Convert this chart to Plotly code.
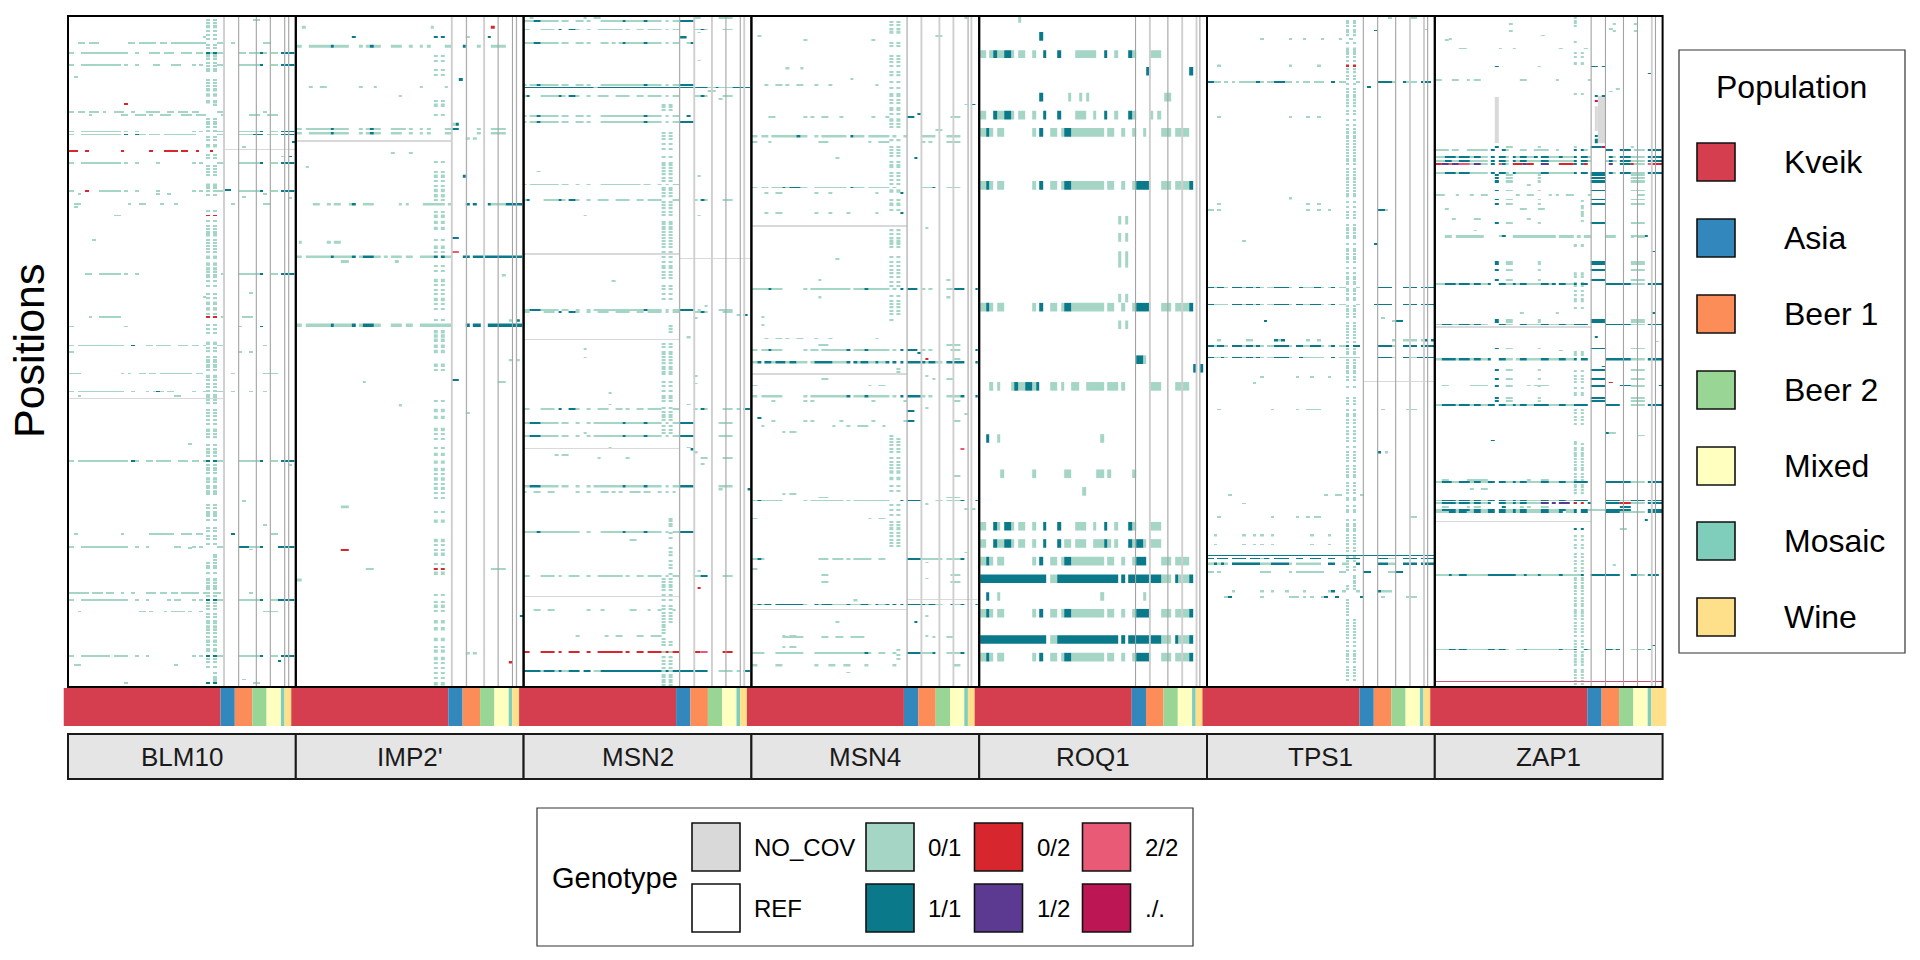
import plotly.graph_objects as go

GENES = ["BLM10", "IMP2'", "MSN2", "MSN4", "ROQ1", "TPS1", "ZAP1"]
GENO_COLORS = {'n': '#d9d9d9', 'h': '#a5d5c5', 'H': '#0a7a8b', 'r': '#d8262f',
               'p': '#e85a76', 'v': '#5c3a92', 'm': '#bd1654', 'c': '#cc5570'}
POPS = ["Kveik", "Asia", "Beer 1", "Beer 2", "Mixed", "Mosaic", "Wine"]
POP_COLORS = ['#d53e4f', '#3288bd', '#fc8d59', '#99d594', '#ffffbf', '#7fcdbb', '#fee08b']
POP_WIDTHS = [157, 14.3, 17.5, 14.3, 14.3, 3.6, 15]

# rows: (position, thickness, genotype, strain-from, strain-to, strain-from, strain-to, ...)
BLM10_rows = [
 (68,3,'h',36,57,69,99,186,207,219,270,282,303,315,420,453,474,495,507,591,615),
 (90,3,'h',45,165,174,186,207,219,261,282,294,324,345,378,390,411,432,441,453,474,518,540,549,582,615,636),
 (90,5,'h',6,24,57,69,165,174,249,261,294,324,345,378,390,411,591,603),
 (91,3,'H',420,432,441,453,582,591,645,685),
 (119,3,'h',6,24,45,165,174,186,207,219,261,282,315,345,378,390,399,411,453,474,518,582,615,636),
 (119,4,'H',582,591,645,685),
 (147,4,'h',24,36),(210,3,'r',174,186),
 (228,3,'h',6,24,36,45,45,57,69,99,111,120,144,165,165,174,195,207,240,270,270,282,303,324,336,366,378,399,453,474,591,603),
 (235,3,'h',69,78,165,186,207,240,249,261,282,315,345,378,390,420,465,474,549,582,603,636),
 (273,3,'h',6,24,45,165,174,186,207,219,378,390,399,411,453,474,518,582,615,636),
 (273,3,'H',582,591,645,685),
 (280,3,'h',6,24,45,165,219,240,249,282,294,378,378,390,453,474,518,561,603,636),
 (280,3,'H',174,186,207,219,561,591,645,685),
 (298,3,'H',678,689),(308,3,'h',528,540),
 (319,4,'r',6,36,57,69,165,174,249,261,294,336,345,366,390,399,432,441),
 (331,3,'h',645,657),(331,3,'H',668,678),
 (347,3,'h',6,24,45,165,174,186,207,219,270,282,378,390,399,411,453,474,518,582,615,636),
 (347,3,'H',582,591,645,685),
 (409,3,'H',474,495),
 (412,3,'h',6,24,99,165,174,186,207,219,270,282,378,390,399,411,453,474,518,582,615,636),
 (412,3,'H',582,591,645,685),(412,3,'r',57,69),
 (419,3,'h',36,45,270,282,303,315,591,603),(426,3,'h',528,540),(428,3,'h',669,678),
 (442,3,'h',24,45,186,195,219,240,282,294,324,336,495,507,591,615),
 (449,3,'h',24,36),(468,3,'h',144,165),(524,3,'h',78,90),
 (603,3,'h',57,78,99,165,174,186,207,219,465,474,518,582,615,636),
 (603,3,'H',582,591,645,685),
 (649,3,'h',549,561),(658,3,'h',411,420),
 (703,3,'h',69,78,99,165,465,474,528,561),
 (726,3,'h',6,24,174,186,518,528),(726,3,'H',582,591),
 (770,3,'h',6,24,36,174,240,261,270,315,336,366,378,399,411,420,453,474,591,603),(770,3,'H',195,207),
 (786,3,'h',6,24,518,528,549,561),
 (835,3,'h',6,45,165,174,186,195,219,240,249,270,282,378,390,411,495,507,591,636),
 (877,3,'h',6,24,36,174,195,207,240,249,261,270,282,294,303,324,378,390,411,420,453,474,495,507,549,561,591,603),
 (877,3,'H',270,282),
 (888,3,'h',36,45,324,345),(999,3,'h',366,378),
 (1039,4,'h',6,24,36,186,207,219,240,261,270,315,336,366,378,399,411,420,453,474,518,582,615,636),
 (1039,4,'H',195,207,420,432,441,453,582,591,645,685),
 (1048,3,'h',669,678),(1132,3,'h',528,540),(1188,3,'h',591,603),
 (1209,3,'h',24,36,165,174,249,324,345,378,390,411,615,636),(1209,3,'H',495,507),
 (1239,3,'h',6,24,45,186,207,219,240,249,324,345,378,390,399,411,453,474,549,582),
 (1239,3,'H',518,549,582,591,636,685),
 (1241,3,'h',366,378),(1244,3,'h',549,561),
 (1344,3,'h',45,57,78,111,120,144,195,207,240,249,282,294,378,390,453,465),
 (1346,3,'h',6,45,57,69,165,174,249,270,294,303,315,336,345,378,390,399,411,420,549,561),
 (1362,4,'h',6,24,45,186,207,219,240,249,303,315,324,345,378,390,399,411,453,474,518,582,615,636),
 (1362,4,'H',420,432,441,453,582,591,636,685),
 (1388,3,'h',36,45,219,240,249,261,294,303,315,357,366,378,399,411,591,636),
 (1492,3,'h',6,24,45,132,144,186,207,219,240,249,378,390,399,411,453,474,518,582,615,636),
 (1492,3,'H',420,432,441,453,582,591,645,685),
 (1504,3,'H',636,645),(1513,4,'h',24,45,324,336),(1546,3,'h',528,540),
 (1555,3,'h',174,186,561,582),(1555,3,'H',420,432,441,453),
 (14,3,'h',561,582),(54,3,'h',411,420),
 (315,2,'n',474,689),(893,2,'n',6,474),
 (468,3,'r',420,432,441,453),(703,3,'r',420,432,441,453),
]
BLM10_twin = [15,21,39,48,58,72,80,105,113,120,127,133,153,160,167,243,250,256,263,272,285,292,328,334,354,361,368,375,405,412,420,458,480,492,499,506,526,532,538,545,552,600,606,612,620,631,651,661,697,722,733,741,777,784,796,803,808,815,820,827,850,859,866,875,885,891,897,905,921,928,935,943,952,977,984,1002,1010,1026,1047,1054,1060,1066,1088,1096,1102,1116,1140,1148,1156,1161,1167,1176,1195,1201,1213,1219,1231,1275,1283,1288,1299,1322,1328,1333,1337,1345,1352,1369,1376,1383,1395,1402,1410,1416,1431,1439,1447,1467,1475,1481,1499,1506,1518]
BLM10_twin_wide = [29,97,176,188,204,306,398,513,565,581,592,672,685,765,842,967,1018,1080,1110,1314,1424,1457]
BLM10_right = [211,1256,1262,1268,1532,1540,1545,1550]
BLM10_lines = [(474,'l'),(518,'g'),(571,'g'),(613,'g'),(656,'m'),(668,'m')]

IMP2_rows = [
 (5,3,'h',15,24),(31,7,'h',24,36,411,420),(31,7,'r',591,603),
 (53,5,'H',174,186,420,432,441,453,582,591),(53,5,'h',516,528),
 (75,7,'h',6,24,45,111,120,165,195,207,216,228,240,261,291,324,345,357,378,387,399,411,453,474,549,561,591,636),
 (75,7,'H',111,120,228,240,507,516),
 (152,7,'H',495,507),(169,5,'h',45,57,78,99,195,207,240,249,378,387,453,462),(190,5,'h',315,324),
 (256,7,'h',474,486),(256,7,'H',486,495),
 (267,5,'h',6,24,36,111,120,165,195,207,216,228,240,261,291,336,345,357,378,387,399,411,453,474,549,561,591,636),
 (267,5,'H',111,120,228,240,474,495),
 (278,5,'h',6,24,45,111,120,165,195,207,216,228,240,261,291,324,345,357,378,387,399,411,453,474,549,561,591,636),
 (278,5,'H',111,120,228,240),
 (289,6,'h',516,528,537,549),(295,4,'n',6,474),
 (323,4,'h',291,303,345,357),(355,5,'h',36,45),(377,7,'H',507,516),
 (443,5,'h',57,78,99,111,120,141,165,174,207,240,315,324,336,345,387,453,462,474,591,636),
 (443,5,'H',174,186,516,528,537,549,582,591,636,685),
 (520,5,'H',474,495),(530,7,'h',15,24,99,111,120,141),(552,4,'p',474,495),
 (564,6,'h',6,24,36,111,120,174,195,207,240,261,270,282,291,324,336,357,378,420,453,474),
 (564,6,'H',111,120,174,186,207,240,420,432,441,453,507,528,537,685),
 (575,7,'h',141,165,303,315),(608,5,'h',624,636),
 (712,6,'h',645,657),(712,6,'H',667,678),
 (723,8,'h',6,24,36,111,120,174,195,207,240,261,291,324,336,357,378,474),
 (723,8,'H',111,120,174,186,207,240,516,528,537,561,582,685),
 (805,4,'h',645,657,667,678),(850,5,'H',474,495),(855,4,'h',207,216,612,636),
 (910,5,'h',315,324),(926,4,'h',516,528),(1145,6,'h',141,165),(1245,4,'r',141,165),
 (1289,5,'h',216,240,591,636),(1289,5,'r',420,432,441,453),
 (1315,7,'h',6,24),(1398,4,'H',678,689),(1486,5,'h',516,528,537,549),(1507,5,'r',645,656),
]
IMP2_twin = [97,109,130,141,202,234,343,367,388,399,432,459,525,553,585,597,630,641,651,674,686,712,827,899,975,987,1008,1068,1091,1112,1124,1157,1234,1245,1277,1349,1366,1386,1471,1507,1519,1531,1542]
IMP2_twin_wide = [212,377,410,422,470,484,498,542,619,663,738,748,758,772,784,816,921,937,965,1023,1041,1058,1080,1102,1178,1223,1255,1299,1376,1412,1428,1453,1480,1497,1556]
IMP2_right = []
IMP2_lines = [(474,'l'),(518,'m'),(571,'l'),(613,'g'),(656,'g'),(668,'m')]

MSN2_rows = [
 (9,4,'h',24,36,186,195,216,237,516,537,591,633),
 (16,5,'h',6,36,57,111,120,141,162,186,195,207,237,303,312,366,378,420,432,441,453,474),
 (16,5,'H',36,57,303,312,366,378,474,516),
 (36,3,'h',6,24,57,99,162,174,195,207,228,303,312,324,345,366,378,420,432,441,453,474,516,537,549,558,603,633),
 (36,3,'H',111,120,141,162,537,549),
 (43,3,'h',528,537),(55,5,'H',474,495),
 (68,3,'h',6,36,57,111,120,141,162,186,195,207,237,261,270,282,291,303,312,366,378,420,432,441,453,474,495,507),
 (68,3,'H',36,57,303,312,366,378,507,516),
 (108,3,'h',528,537),
 (165,4,'h',6,15,24,45,57,111,120,141,162,186,195,207,237,366,378,420,432,441,453,474),
 (165,4,'H',45,57,366,378,474,516),
 (171,2,'H',6,216,228,558,582,591,633,685),(171,2,'h',216,228,558,582,591,633),
 (178,3,'h',558,582),
 (191,4,'h',6,15,57,111,120,132,162,174,195,207,228,261,282,324,345,366,378,420,432,441,453,474,516,537,549,558,603,633),
 (191,4,'H',15,24,111,120,141,162,537,549),
 (197,5,'h',591,603),
 (237,4,'h',6,15,24,45,57,111,120,141,162,186,195,207,237,366,378,420,432,441,453,474),
 (237,4,'H',45,57,366,378,495,507),
 (251,4,'h',6,15,24,45,57,111,120,141,162,186,195,207,237,366,378,420,432,441,453,474),
 (251,4,'H',45,57,366,378,474,516),
 (366,2,'h',45,57),(376,5,'h',528,537),
 (396,2,'h',6,15,24,111,120,141,162,174,195,207,237,357,366,387,408,420,432,441,453,474),
 (432,4,'h',6,15,66,111,120,132,162,174,195,207,228,261,282,324,345,366,378,420,453,474,516,528,549,558,603,633),
 (432,4,'H',15,24,111,120,141,162,537,549),
 (468,3,'h',186,195,528,537),(620,5,'h',270,282),(679,3,'h',549,558),
 (687,3,'h',6,24,57,111,120,141,162,174,195,207,216,366,378,420,432,441,453,474,528,537,591,633),
 (687,3,'H',24,57,366,378,474,516),
 (693,3,'h',6,24,66,99,162,174,195,207,228,261,282,324,345,366,378,420,432,441,453,474,516,537,549,558,603,633),
 (693,3,'H',111,120,141,162,537,549),
 (699,5,'h',645,657),(699,5,'H',666,678),(706,5,'h',516,528),(752,5,'h',495,507),
 (779,3,'h',186,195),(798,2,'h',186,195),(841,4,'h',516,528),(858,2,'h',516,528),(881,3,'h',261,270),(907,2,'h',261,270,495,507),
 (917,5,'h',6,24,57,99,162,174,195,207,228,261,282,303,312,324,345,366,378,420,453,474,516,528,549,558,603,633,645,657),
 (917,5,'H',111,120,141,162,537,549,666,685),
 (950,4,'h',6,24,57,111,120,141,162,174,195,207,216,303,312,366,378,420,432,441,453,474,591,633),
 (950,4,'H',24,57,303,312,366,378,474,516),
 (973,5,'h',186,195),
 (981,5,'h',6,24,57,111,120,141,162,174,195,207,216,303,312,366,378,420,432,441,453,474,591,633),
 (981,5,'H',24,57,303,312,366,378,474,516),
 (1007,2,'h',261,270,495,507),(1012,5,'H',507,516),(1019,5,'h',516,528),(1025,3,'h',99,111,120,141),
 (1032,3,'h',228,237,312,324,537,558,603,633),(1046,3,'h',537,549),
 (1098,5,'h',6,24,57,111,120,141,162,174,195,207,216,303,312,366,378,420,432,441,453,474,591,633),
 (1098,5,'H',24,57,303,312,366,378,474,516),
 (1105,5,'h',591,603),(1105,5,'H',678,689),
 (1111,3,'h',6,15,36,57,78,99,162,174,195,207,237,261,270,282,291,303,324,357,366,387,408,420,432,441,453,462),
 (1204,3,'h',6,45,57,174,195,207,237,303,312,366,378,420,432,441,453,474),
 (1204,3,'H',45,57,303,312,366,378,474,516),
 (1221,3,'h',324,345),(1294,5,'h',528,537),
 (1306,2,'h',6,24,57,99,111,120,141,174,195,207,228,303,312,324,345,366,378,420,432,441,453,474,516,537,603,633),
 (1306,2,'H',537,558),
 (1333,5,'r',528,537),
 (1385,3,'h',36,57,78,99,195,207,237,249,324,345,378,387,408,420,453,462),
 (1445,3,'h',162,174,249,261,282,303,345,366,387,420),
 (1482,5,'r',6,24,57,99,111,120,141,174,195,207,228,303,312,324,345,366,378,420,432,441,453,474,516,537,603,633),
 (1482,5,'p',537,558),(1482,5,'h',420,432,441,453),
 (1527,4,'H',6,57,66,99,111,120,141,174,186,207,237,420,432,441,453,558,666,685),
 (1527,4,'h',57,66,99,111,120,141,216,237,591,633,645,657,420,432,441,453),
 (557,4,'n',6,474),(568,2,'n',474,689),(756,2,'n',6,474),(1009,2,'n',6,474),(1353,2,'n',6,474),
]
MSN2_twin = [212,217,224,277,283,290,303,314,333,346,352,358,366,373,381,389,404,410,416,424,438,445,452,459,466,483,488,494,500,507,514,521,527,535,541,553,564,576,585,591,600,607,613,633,640,651,663,767,773,785,791,797,805,812,820,825,831,837,855,865,876,887,893,900,915,924,931,937,944,958,966,974,1313,1320,1326,1332,1338,1349,1362,1376,1382,1391,1398,1405,1412,1459,1467,1495,1503,1510,1519,1535,1541,1547,1553,1559]
MSN2_twin_wide = []
MSN2_right = [726,733,739,1173,1178,1184,1190,1206,1217,1241,1251,1258,1270,1280,1287,1300]
MSN2_left = [1419,1425,1431,1439,1452,1467]
MSN2_lines = [(474,'m'),(518,'l'),(571,'l'),(613,'g'),(656,'g'),(668,'l')]

MSN4_rows = [
 (9,3,'h',645,654),(51,3,'h',24,36,558,579),(60,5,'h',162,174,366,378),(127,5,'h',108,120,153,162),
 (151,4,'h',303,312),(165,4,'h',45,57,78,99,108,120,141,162,195,207,237,249,378,387),
 (210,2,'h',645,654),(210,2,'H',666,678),(233,3,'H',504,516),
 (240,3,'h',57,78,162,174,183,195,216,237,270,282,366,378,408,420,603,633),(240,3,'H',474,495),
 (270,3,'h',558,579),
 (285,5,'h',6,24,36,57,66,141,153,174,195,207,216,291,312,345,357,420,429,441,462,472,516,558,591,633),
 (285,5,'H',141,153,303,312),
 (297,5,'h',6,24,57,66,207,237,357,366,387,420,516,528,537,549,591,633),
 (334,5,'h',258,270),(334,5,'H',495,504),
 (403,2,'h',6,24,36,57,66,99,108,120,153,174,195,291,312,345,357,420,429,441,516,549,591,633),
 (403,2,'H',99,108,120,153,303,312,549,558),
 (417,4,'h',45,57,78,99,195,207,237,249,378,387),(417,4,'H',453,462),
 (463,3,'h',45,57,78,99,195,207,237,249,291,303,378,387),(463,3,'H',453,462),
 (497,4,'h',528,537),(569,4,'h',258,270),(618,4,'h',207,216,591,603),
 (639,2,'h',6,57,66,99,162,174,183,303,312,345,357,420,429,441,516,528,537,549,591,612),
 (639,2,'H',57,66,345,357,453,462,474,504,612,645,678,685),
 (659,5,'h',207,216,591,603),(704,4,'h',36,45),(723,3,'h',36,45),
 (754,2,'h',45,57,78,99,108,120,141,162,195,207,237,249,378,387),
 (769,3,'h',207,237,591,633),
 (780,5,'h',6,24,36,57,66,99,162,174,183,207,216,291,312,345,357,420,429,441,516,528,537,549,603,633),
 (780,5,'H',57,66,291,303,345,357,453,462,474,504,678,685),
 (787,5,'H',504,516),(802,3,'r',528,537),(802,3,'h',612,633),
 (810,5,'H',24,36,45,66,78,108,120,141,195,249,291,303,312,324,333,357,378,387,408,420,429,441,453,462,474,528,537,558,591,645,678,685),
 (810,5,'h',6,24,66,78,108,120,141,174,183,195,249,291,324,333,357,378,387,408,528,537,558,579),
 (836,4,'n',6,472),(840,3,'h',528,537),(848,5,'h',216,237,549,558,591,612),
 (863,3,'h',6,24,357,366,387,408),
 (889,5,'h',6,24,36,99,162,174,183,291,312,345,357,420,429,441,516,528,537,549,591,633),
 (889,5,'H',291,303,345,357,453,462,474,516,633,645,678,685),
 (900,3,'h',66,78,162,174,183,195,366,378,462,472,612,633),(915,5,'h',528,537),(923,3,'H',474,495),
 (930,3,'h',645,654),(938,5,'H',24,36),
 (945,5,'h',66,78,162,174,183,195,270,282,366,378,462,474,612,633),(945,5,'H',474,495),
 (957,4,'h',36,45,249,258,291,303,324,357,399,408),(971,2,'h',99,108,120,141),
 (1010,5,'p',633,645),(1073,5,'h',612,633),(1115,5,'h',99,108,120,141),(1123,2,'h',207,237,591,633),
 (1130,2,'h',6,24,36,99,162,174,183,282,291,303,312,420,558,579,591,633),
 (1130,2,'H',24,36,453,462,474,516,633,645,678,685),
 (1138,5,'h',528,537),(1150,4,'h',645,654,666,678),(1172,3,'h',6,24,357,366,387,408),(1251,3,'h',645,654),
 (1266,4,'h',6,24,36,45,207,237,249,282,291,303,312,366,387,408,516,579,591,633),
 (1266,4,'H',24,36,474,516,633,645),
 (1274,2,'h',528,537),(1289,5,'h',6,24),(1303,5,'h',216,237,603,633),(1311,2,'h',528,537),(1319,5,'h',216,237,603,633),
 (1360,2,'n',474,684),(1363,5,'h',312,324),
 (1372,2,'H',24,36,45,66,78,162,195,207,216,249,291,303,333,357,378,387,408,420,429,441,453,462,474,528,537,558,603,612,633,645,678,685),
 (1372,2,'h',6,24,36,45,162,174,207,216,249,291,303,333,357,366,387,408,528,537,558,579,612,633),
 (1383,2,'n',6,472),(1398,5,'h',528,537),(1413,3,'h',258,270),(1413,3,'H',495,504),
 (1444,3,'h',99,108,120,141,528,537),(1447,5,'h',99,162,216,237,258,282,303,345,549,558,591,612),
 (1471,5,'h',99,108,120,141),
 (1484,5,'h',6,45,78,162,195,345,357,366,387,408,429,441,516,549,591,633),
 (1484,5,'H',345,357,474,516,549,558,633,645),
 (1514,5,'h',6,24,78,99,195,207,237,258,282,303,345,357,429,441,612,633),(1530,2,'h',291,303),
 (493,3,'n',6,472),
]
MSN4_twin = [18,25,34,68,75,97,104,112,120,135,143,158,173,185,191,199,206,218,224,232,255,263,294,309,316,324,331,343,350,356,369,376,385,394,432,455,503,512,520,535,542,564,576,586,594,603,610,622,632,655,666,674,682,690,697,987,994,1002,1010,1017,1032,1040,1047,1054,1097,1108,1141,1152,1163,1180,1187,1205,1214,1221,1228,1235]
MSN4_twin_wide = [42,246,411,442,528,1064,1079,1195]
MSN4_right = [824,832,1477,1490,1499]
MSN4_left = [712,980]
MSN4_lines = [(473,'g'),(516,'l'),(570,'l'),(612,'l'),(656,'g'),(666,'l')]

ROQ1_band_y = [398,681,1392,1494]
ROQ1_band_het = (9,27,36,48,60,81,165,177,219,240,252,261,282,381,390,411,432,444,465,477,552,582,594,636)
ROQ1_band_hom = (27,36,186,198,261,282,477,519,636,648)
ROQ1_wall_y = [1312,1453]
ROQ1_wall_hom = (9,207,240,423,432,444,453,552,594,603,636,648)
ROQ1_wall_het = (219,240,552,582,603,636)
ROQ1_rows = [
 (12,16,'h',123,132),(52,20,'H',186,198),
 (93,18,'h',9,27,36,48,60,81,102,111,123,144,165,177,294,357,411,423,465,477,519,552),
 (93,18,'H',48,60,81,102,198,207,240,252,381,390,453,465),
 (133,20,'H',507,519,636,648),
 (193,20,'H',186,198),(193,20,'h',273,282,306,315,327,336,561,582),
 (235,20,'h',9,27,60,81,102,111,123,144,165,177,294,327,348,357,411,423,465,477,519,528,540,552),
 (235,20,'H',48,60,81,102,198,207,240,252,381,390,453,465),
 (275,20,'h',9,27,36,48,60,81,165,177,219,240,252,261,282,381,390,411,432,444,465,477,498,507,552,582,594,636),
 (275,20,'H',27,36,186,198,261,282),
 (479,20,'h',423,432,444,453),(519,20,'h',423,432,444,453),(570,38,'h',423,432,444,453),
 (660,20,'h',423,432,444,453),(722,20,'h',423,432,444,453),
 (803,20,'H',477,498),(803,20,'h',498,507),(823,20,'H',648,657,669,678),
 (865,20,'h',36,48,60,69,102,111,123,144,165,177,219,240,252,261,282,306,327,381,390,423,432,444,519,552,594,636),
 (865,20,'H',111,123,144,165,177,186),
 (986,20,'H',27,36),(986,20,'h',60,69,369,381),
 (1068,20,'h',69,81,165,177,261,282,357,381,390,402,465,477),(1109,20,'h',315,327),
 (1190,20,'h',9,27,60,69,102,111,123,144,165,177,294,327,348,357,411,423,465,477,519,552),
 (1190,20,'H',48,60,81,102,198,207,240,252,381,390,453,465),
 (1230,20,'h',9,27,60,81,102,111,123,144,165,177,261,282,294,327,348,381,390,402,411,423,465,477,498,507,519,552),
 (1230,20,'H',48,60,81,102,198,207,240,252,381,390,453,465,477,498),
 (1271,20,'h',9,27,36,48,60,81,165,177,219,240,252,261,282,381,390,411,432,444,465,477,552,582,594,636),
 (1271,20,'H',27,36,186,198,261,282,477,507),
 (1353,20,'H',27,36),(1353,20,'h',60,69,369,381,498,507),
]
ROQ1_twin = []
ROQ1_twin_wide = []
ROQ1_right = []
ROQ1_lines = [(475,'g'),(518,'l'),(572,'g'),(615,'l'),(658,'l'),(668,'g')]

TPS1_rows = [
 (9,4,'h',549,561,615,636),(36,2,'h',657,669),(38,2,'H',507,518),
 (58,4,'h',165,177,252,261,294,303,348,357,402,411,432,444),
 (120,6,'h',36,48,252,261,336,348),(120,6,'r',423,432,444,453),
 (157,3,'H',9,27,153,165,207,240,378,390,518,561,594,603,648,678),
 (157,3,'h',27,48,57,69,81,90,102,153,165,177,186,207,240,261,273,282,294,315,327,357,402,423,453,465,561,572,603,636),
 (170,5,'H',486,498),(240,3,'h',36,48,252,261,303,315,336,348),(429,5,'h',252,261),
 (442,3,'h',36,48,303,315,336,348),
 (456,3,'h',9,27,36,48,303,315,336,348,369,378,540,549),(456,3,'H',518,540),
 (528,3,'h',111,123),(534,5,'H',507,518),
 (635,2,'H',9,27,36,57,81,111,123,144,153,165,207,252,282,294,327,348,378,390,518,561,594,636,648,687),
 (635,2,'h',27,36,57,69,111,123,144,153,165,177,186,207,252,261,294,327,348,357,369,378,402,423,453,465),
 (675,2,'H',9,27,81,111,123,144,153,165,207,252,273,294,315,348,378,390,507,561,594,636,648,687),
 (675,2,'h',27,69,111,123,144,153,165,177,186,207,252,261,294,315,348,357,369,378,402,423,453,465),
 (707,3,'h',528,540),(713,4,'H',177,186,573,594),(713,4,'h',561,573),
 (759,5,'h',36,48,123,144,303,315,336,348,561,573,594,636,648,657,219,228),
 (759,5,'H',207,219,228,240,657,669,678,687),
 (772,3,'H',9,27,36,57,81,111,123,144,153,165,207,252,273,294,315,348,378,390,423,432,444,465,518,561,594,636,648,687),
 (772,3,'h',27,36,57,69,111,123,144,153,165,177,186,207,252,261,294,315,348,357,369,378,402,423,561,572),
 (798,2,'H',9,27,48,57,81,111,123,144,153,165,207,252,282,294,378,390,518,561,594,612,636,687),
 (798,2,'h',27,48,57,69,111,123,144,153,165,177,186,207,252,261,294,357,402,465,561,572,612,636),
 (844,3,'h',165,177,273,282,315,327,369,378),(854,2,'n',475,689),(857,5,'h',144,153),
 (919,2,'h',36,48,198,207,273,282,303,348,528,540,603,636),
 (1019,5,'H',518,528),(1019,5,'h',540,549),
 (1117,5,'h',69,81,357,369,390,411,465,477),(1137,2,'h',111,123),
 (1169,3,'h',36,48,198,207,273,282,303,315,327,348,615,636),
 (1212,5,'h',27,36,111,123,144,153,165,177,198,207,315,327,369,378),
 (1232,2,'h',27,36,111,123,144,153,165,177,198,207,315,327,369,378),
 (1258,2,'H',9,687),
 (1265,3,'H',9,27,36,69,81,123,135,165,177,193,207,252,273,294,315,348,369,390,423,465,518,549,594,636,648,687),
 (1265,3,'h',165,177,549,572),
 (1277,6,'H',27,36,48,57,81,165,198,252,369,390,453,465,518,549,594,636,648,687),
 (1277,6,'h',9,27,36,48,57,69,165,198,252,261,273,348,411,432,549,572),
 (1297,3,'h',9,27,36,48,165,198,252,261,273,357,402,423,549,572),(1297,3,'H',474,498,572,594),
 (1342,5,'h',81,90,165,177,198,207,240,252,294,303,369,378,411,423,453,465,528,561),(1342,5,'H',378,390,518,528),
 (1355,3,'h',57,69,165,177,252,282,294,303,315,327,348,357,528,540,603,636),(1355,3,'H',69,81,357,369,390,402,465,474),
]
TPS1_twin = [16,22,29,37,43,50,67,88,94,101,109,129,136,144,151,162,175,181,188,194,201,208,215,225,232,247,259,268,283,289,296,302,309,316,322,329,336,342,349,360,367,374,391,397,404,411,418,424,436,449,459,468,475,490,497,503,509,515,521,534,545,551,557,564,570,577,590,603,610,616,622,628,638,644,651,659,665,679,685,690,697,703,719,726,733,739,746,752,763,778,785,791,805,811,817,822,829,835,843,851,866,893,900,907,920,930,935,943,951,960,970,977,985,993,1007,1017,1024,1031,1039,1050,1057,1064,1071,1075,1089,1096,1105,1112,1124,1130,1144,1152,1157,1176,1184,1190,1196,1202,1210,1218,1225,1232,1240,1247,1262,1270,1284,1291,1330,1335,1407,1414,1421,1429,1436,1443,1449,1459,1468,1479,1486,1492,1499,1506,1518,1525,1532,1539,1548]
TPS1_twin_wide = [82,275,382]
TPS1_right = [1305,1311,1317,1323]
TPS1_left = [1362,1368,1375,1382,1390,1396]
TPS1_lines = [(475,'g'),(518,'g'),(572,'g'),(615,'l'),(657,'l'),(668,'g')]

ZAP1_ladder_y = [375,380,387,391,410,431,442,486,577,581,594,617,710,716,777,826,847,865,891,900]
ZAP1_ladder_hom = (186,198,474,518)
ZAP1_ladder_het = (219,240,315,324,594,636)
ZAP1_rows = [
 (24,3,'h',228,240,603,615,540,549),(34,3,'h',528,540),(40,3,'h',228,240,540,549,603,615),(50,2,'h',324,336),
 (57,3,'h',48,57),(61,4,'h',36,48),(80,3,'h',78,102,198,207,240,249,378,390,453,465),
 (122,3,'H',186,198,474,495,507,518),(122,3,'h',315,324),(138,2,'H',645,657),
 (154,4,'h',6,27,57,78,102,111,123,144,261,282,369,378,465,474),
 (175,3,'h',549,561),(180,3,'h',528,540),(191,3,'H',486,495,507,518),(203,3,'m',486,495),
 (246,107,'n',186,198),(245,110,'n',495,518),(243,58,'n',486,495),
 (284,5,'H',486,495),(295,10,'H',486,495),
 (308,3,'H',186,198,474,507),(308,3,'m',507,518),(308,3,'h',219,240,315,324,423,432,594,603),
 (315,3,'h',6,48,57,78,102,165,219,228,261,282,303,348,369,378,453,465,603,636),
 (315,3,'H',174,186,207,219,423,432,444,453,518,540,561,594,645,685),
 (333,4,'h',6,36,69,78,111,123,144,165,219,228,249,261,282,303,348,378,390,423,465,474,540,549,594,636),
 (333,4,'H',36,69,78,111,123,144,174,186,198,219,240,249,261,282,303,315,324,348,378,390,423,432,444,465,528,540,561,594,645,690),
 (342,3,'h',6,36,57,78,111,165,219,228,249,261,282,324,348,423,465,474,518,528,540,552,594,636),
 (342,3,'H',36,57,78,111,174,186,198,219,240,249,261,282,324,348,423,432,444,465,528,540,561,594,645,690),
 (349,3,'r',6,27,240,270,282,303,378,423,453,465,594,603,657,690),
 (349,3,'p',48,57,78,111,198,207,645,657),
 (349,3,'v',27,48,57,78,123,144,270,282,324,348,528,540),
 (349,3,'h',111,123,144,165,219,228,603,636),
 (349,3,'H',174,186,207,219,423,432,444,453,561,594),
 (370,3,'h',6,36,69,78,111,165,219,228,249,324,348,423,540,549,594,636),
 (370,3,'H',36,69,78,111,174,186,198,219,240,249,324,348,423,432,444,465,474,518,528,540,561,594,645,690),
 (398,3,'h',282,294),
 (420,5,'h',6,36,69,78,111,123,144,165,249,261,282,303,348,357,369,378,399,423,465,474,615,636),
 (452,3,'h',36,48,261,282,315,336),(476,5,'h',57,69,123,144,282,294),(503,2,'h',123,132),
 (515,3,'h',36,57,69,153,198,207,240,369,378,423,432,444,453,474,519,549,594,636),(515,3,'H',207,219,636,645),
 (519,2,'h',36,57,69,153,240,369,378,423,432,444,453,474,519,549,594,603,615,636),
 (552,2,'H',657,669),
 (628,3,'h',6,36,69,78,111,123,144,165,219,240,249,261,282,324,348,357,399,423,594,636),
 (628,3,'H',36,69,78,111,123,144,165,174,198,219,240,249,261,282,324,348,357,369,378,399,423,432,444,465,518,594,645,690),
 (694,5,'h',261,273,369,378),(694,5,'H',657,669),
 (721,2,'H',27,57,78,111,123,144,198,219,261,282,324,348,378,399,423,465,518,594,645,690),
 (721,2,'h',6,27,57,78,111,123,144,165,219,240,282,324,348,378,399,423,594,636),
 (750,5,'H',486,495),(761,2,'h',669,678),(782,2,'h',378,390),
 (803,5,'h',6,27,69,78,111,123,144,165,219,240,249,261,282,324,348,378,399,423,594,636),
 (803,5,'H',27,69,78,111,123,144,165,174,198,219,261,282,324,348,378,399,423,432,444,465,518,594,645,690),
 (819,2,'H',507,518),(856,2,'r',528,540),
 (863,3,'h',27,48,111,165,282,294,303,348),(863,3,'H',561,594,678,690),
 (908,5,'h',6,27,69,78,111,123,144,165,219,240,249,261,282,303,348,378,399,423,594,636),
 (908,5,'H',27,69,78,111,123,144,165,186,198,219,240,249,261,282,303,348,378,399,423,465,518,561,645,690),
 (974,3,'H',518,528),(974,3,'h',528,549),(979,2,'h',615,636),(991,2,'H',174,186),
 (1083,2,'h',27,48,102,165,282,294,324,348),
 (1087,2,'H',27,57,78,111,123,144,165,186,198,219,240,249,261,282,324,348,378,399,423,465,518,594,645,690),
 (1087,2,'h',6,27,57,78,111,123,144,165,219,240,249,261,282,324,348,378,399,423,594,636),
 (1104,3,'h',111,123,144,165),
 (1130,2,'H',27,69,78,111,123,144,165,186,198,219,240,249,261,282,324,348,378,399,423,465,518,561,594,636,645,690),
 (1130,2,'h',6,27,69,78,111,123,144,165,219,240,249,261,282,324,348,378,399,423,561,594),
 (1136,3,'H',27,69,78,111,123,144,165,174,198,219,240,249,261,282,423,432,465,474,518,561,645,690),
 (1136,3,'v',324,348,357,369,378,411),(1136,3,'r',423,432,444,453,561,594),
 (1136,3,'h',6,27,69,78,111,123,144,165,219,240,249,261,282,324,594,636),
 (1146,3,'h',27,48,102,111,123,144,261,273,282,294,324,348),(1146,3,'H',207,219,561,594),
 (1152,5,'H',27,69,78,111,123,144,165,186,198,219,240,249,261,282,324,348,378,399,423,432,444,465,518,594,645,690),
 (1152,5,'h',6,27,69,78,111,123,144,165,219,240,249,261,282,324,348,378,399,423,465,594,636),
 (1158,4,'H',48,69,78,102,123,144,165,186,198,219,240,249,261,282,324,348,378,390,423,432,444,465,518,561,645,690),
 (1158,4,'h',6,48,69,78,102,123,144,165,219,240,249,261,282,324,348,378,399,423,561,636),
 (1176,3,'H',636,645),(1197,3,'H',423,432,444,453),(1197,3,'h',561,582),(1280,5,'h',540,549),
 (1304,3,'H',48,57,78,102,165,249,273,282,315,324,378,390,444,453,474,561,594,612,645,678),
 (1304,3,'h',6,48,57,78,102,165,249,273,282,315,324,378,390,444,612,636),
 (1467,2,'H',657,669),
 (1476,2,'H',48,69,78,102,165,186,198,219,273,282,378,390,423,432,453,465,518,540,549,561,645,657),
 (1476,2,'h',6,48,69,78,102,165,186,198,219,228,249,273,282,378,390,423,465,474,540,549,594,636),
 (1551,2,'c',6,690),(1551,2,'r',615,636),
 (727,2,'n',6,475),(1179,2,'n',6,475),
]
ZAP1_twin = [90,101,113,117,187,536,540,610,624,632,644,654,662,668,684,793,830,840,848,856,870,880,886,920,926,937,943,952,1000,1008,1014,1020,1033,1040,1047,1054,1060,1068,1075,1082,1094,1100,1107,1114,1214,1223,1233,1240,1254,1262,1270,1278,1288,1294,1310,1316,1322,1328,1334,1341,1348,1358,1364,1371,1376,1385,1399,1406,1414,1422,1430,1436,1444,1456,1463,1471,1482,1499,1513,1523,1529,1536,1543,1550,1557]
ZAP1_twin_wide = [604,787,1025,1391,1490,1505]
ZAP1_right = [435,447,452,459,465,470,482]
ZAP1_left = [10,17,22,28,66,994]
ZAP1_lines = [(475,'g'),(518,'g'),(572,'g'),(614,'g'),(657,'l'),(668,'g')]

W, H = 1920, 960
def fx(p): return p / W
def fy(p): return 1 - p / H

PANEL_W = 227.8
PANEL_L = [68 + i * PANEL_W for i in range(7)]
PANEL_T, PANEL_B = 16, 687
X_RANGE = [6, 689.4]
Y_RANGE = [1563.4, 4.6]

fig = go.Figure()
shapes, annots = [], []

def add_rows(axis, rows):
    by = {}
    for r in rows:
        y, h, g, sp = r[0], r[1], r[2], r[3:]
        for a, b in zip(sp[::2], sp[1::2]):
            by.setdefault(g, []).append((y, h, a, b))
    for g in ['n', 'h', 'H', 'r', 'p', 'v', 'm', 'c']:
        if g not in by:
            continue
        d = by[g]
        fig.add_trace(go.Bar(orientation='h', y=[v[0] for v in d],
                             width=[v[1] * 0.7 if v[1] <= 5 else v[1] for v in d],
                             base=[v[2] for v in d], x=[v[3] - v[2] for v in d],
                             marker=dict(color=GENO_COLORS[g], line=dict(width=0)),
                             xaxis=axis, yaxis='y', showlegend=False, hoverinfo='skip'))

def column_rows(twin, wide, right, left, cols):
    (a, b), (c, d) = cols
    out = [(y, 4, 'h', a, b, c, d) for y in twin]
    out += [(y, 8, 'h', a, b, c, d) for y in wide]
    out += [(y, 4, 'h', c, d) for y in right]
    out += [(y, 4, 'h', a, b) for y in left]
    return out

COLS_A = ((420, 432), (441, 453))
COLS_B = ((423, 432), (444, 453))
ROQ1_all = ROQ1_rows + [(y, 20, 'h') + ROQ1_band_het for y in ROQ1_band_y] + [(y, 20, 'H') + ROQ1_band_hom for y in ROQ1_band_y] \
    + [(y, 20, 'h') + ROQ1_wall_het for y in ROQ1_wall_y] + [(y, 20, 'H') + ROQ1_wall_hom for y in ROQ1_wall_y]
ZAP1_all = ZAP1_rows + [(y, 3, 'H') + ZAP1_ladder_hom for y in ZAP1_ladder_y] + [(y, 3, 'h') + ZAP1_ladder_het for y in ZAP1_ladder_y]
PANELS = [
    (column_rows(BLM10_twin, BLM10_twin_wide, BLM10_right, [], COLS_A) + BLM10_rows, BLM10_lines),
    (column_rows(IMP2_twin, IMP2_twin_wide, IMP2_right, [], COLS_A) + IMP2_rows, IMP2_lines),
    (column_rows(MSN2_twin, MSN2_twin_wide, MSN2_right, MSN2_left, COLS_A) + MSN2_rows, MSN2_lines),
    (column_rows(MSN4_twin, MSN4_twin_wide, MSN4_right, MSN4_left, COLS_A) + MSN4_rows, MSN4_lines),
    (ROQ1_all, ROQ1_lines),
    (column_rows(TPS1_twin, TPS1_twin_wide, TPS1_right, TPS1_left, COLS_B) + TPS1_rows, TPS1_lines),
    (column_rows(ZAP1_twin, ZAP1_twin_wide, ZAP1_right, ZAP1_left, COLS_B) + ZAP1_all, ZAP1_lines),
]
LINE_STYLE = {'g': ('#a3a3a3', 1.1), 'm': ('#afafaf', 1.3), 'l': ('#cfcfcf', 1.9)}

layout_axes = {}
for i, (rows, lines) in enumerate(PANELS):
    n = i + 1
    axis = 'x' if i == 0 else f'x{n}'
    key = 'xaxis' if i == 0 else f'xaxis{n}'
    add_rows(axis, rows)
    layout_axes[key] = dict(domain=[fx(PANEL_L[i]), fx(PANEL_L[i] + PANEL_W)], range=X_RANGE,
                            visible=False, anchor='y', fixedrange=True)
    for x, st in lines:
        c, w = LINE_STYLE[st]
        shapes.append(dict(type='line', xref=axis, yref='paper', x0=x, x1=x, y0=fy(PANEL_B), y1=fy(PANEL_T),
                           line=dict(color=c, width=w), layer='above'))
    shapes.append(dict(type='rect', xref='paper', yref='paper', x0=fx(PANEL_L[i]), x1=fx(PANEL_L[i] + PANEL_W),
                       y0=fy(PANEL_B), y1=fy(PANEL_T), line=dict(color='#000000', width=2), layer='above'))
    shapes.append(dict(type='rect', xref='paper', yref='paper', x0=fx(PANEL_L[i]), x1=fx(PANEL_L[i] + PANEL_W),
                       y0=fy(779), y1=fy(734), fillcolor='#e5e5e5', line=dict(color='#1a1a1a', width=2), layer='below'))
    annots.append(dict(xref='paper', yref='paper', x=fx(PANEL_L[i] + PANEL_W / 2), y=fy(757), text=GENES[i],
                       xanchor='center', yanchor='middle', showarrow=False,
                       font=dict(size=26, color='#1a1a1a', family='Liberation Sans')))

# population strip under each panel
strip_base, strip_w, strip_c = [], [], []
for i in range(7):
    off = i * PANEL_W
    for w, c in zip(POP_WIDTHS, POP_COLORS):
        strip_base.append(off)
        strip_w.append(w)
        strip_c.append(c)
        off += w
fig.add_trace(go.Bar(orientation='h', y=[0] * len(strip_w), x=strip_w, base=strip_base, width=1,
                     marker=dict(color=strip_c, line=dict(width=0)), xaxis='x8', yaxis='y2',
                     showlegend=False, hoverinfo='skip'))
layout_axes['xaxis8'] = dict(domain=[fx(63.5), fx(1667)], range=[0, 1603.5], visible=False, anchor='y2', fixedrange=True)
layout_axes['yaxis2'] = dict(domain=[fy(726), fy(688)], range=[-0.5, 0.5], visible=False, anchor='x8', fixedrange=True)
layout_axes['yaxis'] = dict(domain=[fy(PANEL_B), fy(PANEL_T)], range=Y_RANGE, visible=False, anchor='x', fixedrange=True)

def rect(x0, y0, x1, y1, fill, lw=1.6, lc='#111111'):
    shapes.append(dict(type='rect', xref='paper', yref='paper', x0=fx(x0), x1=fx(x1), y0=fy(y1), y1=fy(y0),
                       fillcolor=fill, line=dict(color=lc, width=lw), layer='above'))

def label(x, y, text, size, anchor='left', angle=0):
    annots.append(dict(xref='paper', yref='paper', x=fx(x), y=fy(y), text=text, showarrow=False, xanchor=anchor,
                       yanchor='middle', textangle=angle, font=dict(size=size, color='#000000', family='Liberation Sans')))

label(29, 351, 'Positions', 43, 'center', -90)

# population legend
rect(1679, 50, 1905, 653, '#ffffff', 1.2, '#333333')
label(1791, 87, 'Population', 32, 'center')
POP_TOPS = [143, 219, 295, 371, 447, 522, 598]
for name, col, top in zip(POPS, POP_COLORS, POP_TOPS):
    rect(1697, top, 1735, top + 38, col)
    label(1782, top + 19, name, 32)

# genotype legend
rect(537, 808, 1193, 946, '#ffffff', 1.2, '#333333')
label(550, 878, 'Genotype', 29)
GENO_LEGEND = [('NO_COV', 'n', 692, 823, 752), ('REF', None, 692, 884, 752), ('0/1', 'h', 866, 823, 926),
               ('1/1', 'H', 866, 884, 926), ('0/2', 'r', 974.5, 823, 1035), ('1/2', 'v', 974.5, 884, 1035),
               ('2/2', 'p', 1082.5, 823, 1143), ('./.', 'm', 1082.5, 884, 1143)]
for text, g, x, y, tx in GENO_LEGEND:
    rect(x, y, x + 48, y + 48, GENO_COLORS[g] if g else '#ffffff')
    label(tx, y + 24, text, 24)

fig.update_layout(width=W, height=H, margin=dict(l=0, r=0, t=0, b=0), paper_bgcolor='white', plot_bgcolor='white',
                  barmode='overlay', shapes=shapes, annotations=annots, autosize=False, **layout_axes)
fig.write_html("out.html", config=dict(displayModeBar=False),
               post_script="document.body.style.margin='0';document.body.style.overflow='hidden';")
